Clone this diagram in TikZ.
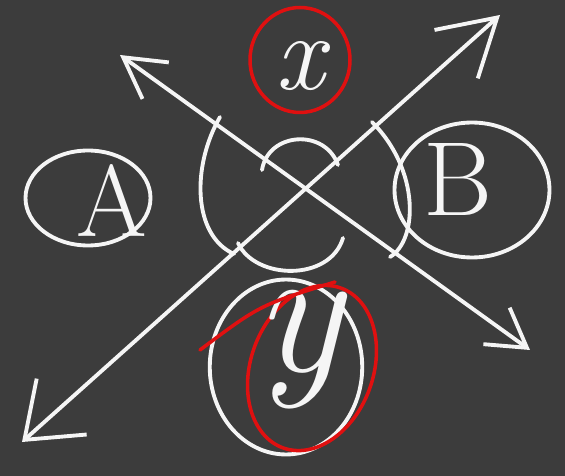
\documentclass[tikz,border=0pt]{standalone}
\usepackage{xcolor}
\usepackage{tikz}
\usetikzlibrary{arrows.meta,shapes.geometric}
\definecolor{board}{HTML}{3C3C3C}
\definecolor{chalk}{HTML}{F5F5F5}
\definecolor{marker}{HTML}{E01010}

\begin{document}
\begin{tikzpicture}[x=0.02cm,y=-0.02cm,blob/.style={draw=chalk,ellipse,line width=2.2pt,inner sep=0pt},ring/.style={draw=marker,ellipse,line width=2pt,inner sep=0pt},letter/.style={text=chalk,inner sep=0pt},axis/.style={draw=chalk,line width=2.2pt,line cap=round},sweep/.style={draw=chalk,line width=2.2pt,line cap=round}]
\fill[board] (0,0) rectangle (565,476);
\coordinate (sw) at (22,442);
\coordinate (ne) at (500,15);
\coordinate (nw) at (120,55);
\coordinate (se) at (530,350);
\draw[axis,{Straight Barb[length=1.0cm,width=1.5cm]}-{Straight Barb[length=1.1cm,width=1.3cm]}] (sw) -- (ne);
\draw[axis,{Straight Barb[length=0.8cm,width=0.9cm]}-{Straight Barb[length=0.75cm,width=0.9cm]}] (nw) -- (se);
\node[blob,minimum width=2.5cm,minimum height=1.9cm] (A) at (88,198) {};
\node[letter,font=\fontsize{58}{58}\selectfont] (Alab) at (112,200) {A};
\node[blob,minimum width=3.1cm,minimum height=2.7cm] (B) at (472,190) {};
\node[letter,font=\fontsize{60}{60}\selectfont] (Blab) at (458,180) {B};
\node[ring,minimum width=2.0cm,minimum height=2.1cm] (X) at (300,60) {};
\node[letter,font=\itshape\fontsize{62}{62}\selectfont] (Xlab) at (300,66) {x};
\node[blob,minimum width=3.05cm,minimum height=3.5cm] (Y) at (286,367) {};
\node[ring,minimum width=2.45cm,minimum height=3.4cm,rotate=-20] (Yring) at (312,368) {};
\node[letter,font=\itshape\fontsize{105}{105}\selectfont] (Ylab) at (298,350) {y};
\draw[draw=marker,line width=2pt,line cap=round] (200,350) .. controls (260,305) .. (335,282);
% angle marks round the crossing
\draw[sweep] (262,170) .. controls (268,132) and (325,128) .. (338,165);
\draw[sweep] (238,243) .. controls (255,280) and (330,282) .. (343,238);
\draw[sweep] (220,117) .. controls (192,165) and (192,235) .. (234,254);
\draw[sweep] (372,122) .. controls (420,170) and (418,240) .. (390,257);
\end{tikzpicture}
\end{document}
